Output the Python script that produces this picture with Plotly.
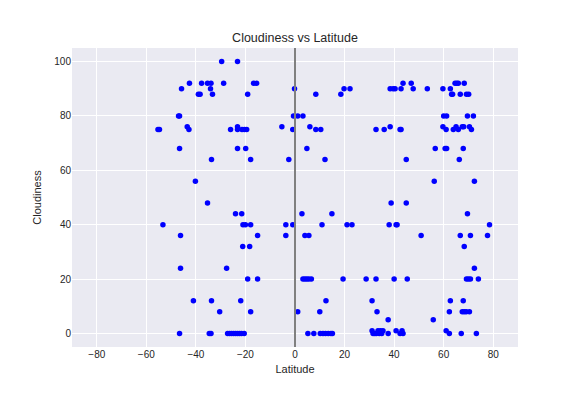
import plotly.graph_objects as go

# Southern hemisphere + equator points
lat_s = [-55.3, -54.7, -53.3, -47.0, -46.6, -46.6, -46.2, -46.2, -46.6,
         -45.8, -42.6, -37.7, -35.3, -33.9, -34.1, -28.8, -16.7, -15.5, -0.2,
         -29.6, -23.2, -39.0, -38.3, -33.3, -19.1, -0.6, 1.1, 3.2,
         -43.5, -42.8, -26.0, -23.2, -23.2, -21.4, -20.4, -19.5, -5.3, -0.9,
         -23.2, -19.9, -33.7, -17.9, -2.5, -40.2, -35.3, -24.0, -21.5,
         -21.0, -20.0, -17.9, -3.7, -0.9, -15.1, -3.7, -21.1, -18.3, -27.6,
         -19.1, -15.1, -41.0, -33.7, -21.9, -30.4, -17.9, 1.1,
         -34.6, -33.9, -27.2, -26.4, -25.6, -24.8, -24.0, -23.2, -22.4, -21.6, -20.5]
cloud_s = [75, 75, 40, 80, 80, 68, 36, 24, 0,
           90, 92, 92, 92, 92, 90, 92, 92, 92, 90,
           100, 100, 88, 88, 88, 88, 80, 80, 80,
           76, 75, 75, 76, 75, 75, 75, 75, 76, 75,
           68, 68, 64, 64, 64, 56, 48, 44, 44,
           40, 40, 40, 40, 40, 36, 36, 32, 32, 24,
           20, 20, 12, 12, 12, 8, 8, 8,
           0, 0, 0, 0, 0, 0, 0, 0, 0, 0, 0]

# Northern hemisphere points
lat_n = [8.4, 18.5, 19.8, 22.2, 38.4, 39.6, 40.4, 42.8, 43.6,
         6.0, 8.4, 10.4, 4.8, 12.1,
         32.7, 36.0, 38.4, 42.4, 42.8, 44.9,
         46.9, 47.7, 53.4, 59.7, 62.7,
         64.6, 65.3, 65.9, 68.3,
         63.2, 63.6, 66.7, 69.2, 70.1,
         60.0, 61.2, 69.6, 72.0,
         59.7, 61.0, 63.9, 65.0, 65.9, 67.5, 68.1, 70.4, 71.2,
         56.6, 60.6, 61.2, 67.9, 66.3, 56.2, 72.4,
         2.8, 14.9, 38.8, 44.9,
         10.9, 21.0, 23.0, 38.0, 40.8, 41.2,
         4.0, 5.6,
         3.2, 4.0, 4.8, 5.6, 6.6, 19.4, 28.7, 32.7, 40.0, 45.3,
         12.5, 31.1, 10.0, 33.1, 37.6,
         5.2, 7.6, 10.2, 11.3, 12.3, 13.4, 14.5, 15.1,
         31.1, 31.5, 32.2, 32.8, 33.5, 34.0, 34.5, 35.0, 35.5, 37.6, 40.8, 42.4, 43.2, 43.6,
         69.6, 78.5, 50.9, 66.7, 70.8, 77.7, 68.3, 72.4, 69.2, 70.0, 70.8, 74.0,
         62.7, 67.9, 62.3, 67.5, 68.3, 69.1, 70.4, 55.8, 61.0, 62.3, 67.1, 73.2]
cloud_n = [88, 88, 90, 90, 90, 90, 90, 90, 92,
           76, 75, 75, 68, 64,
           75, 75, 76, 75, 75, 64,
           92, 90, 90, 90, 90,
           92, 92, 92, 92,
           88, 88, 88, 88, 88,
           80, 80, 80, 80,
           76, 75, 75, 76, 75, 76, 76, 76, 75,
           68, 68, 68, 68, 64, 56, 56,
           44, 44, 48, 48,
           40, 40, 40, 40, 40, 40,
           36, 36,
           20, 20, 20, 20, 20, 20, 20, 20, 20, 20,
           12, 12, 8, 8, 5,
           0, 0, 0, 0, 0, 0, 0, 0,
           1, 0, 0, 0, 1, 0, 1, 0, 1, 0, 1, 0, 1, 0,
           44, 40, 36, 36, 36, 36, 32, 24, 20, 20, 20, 20,
           12, 12, 8, 8, 8, 8, 8, 5, 1, 0, 0, 0]

latitudes = lat_s + lat_n
cloudiness = cloud_s + cloud_n

x_ticks = [-80, -60, -40, -20, 0, 20, 40, 60, 80]
y_ticks = [0, 20, 40, 60, 80, 100]

font_family = "Liberation Sans, Arial, DejaVu Sans, sans-serif"

fig = go.Figure()
fig.add_trace(go.Scatter(
    x=latitudes, y=cloudiness, mode="markers",
    marker=dict(color="#0000FF", size=5.5, line=dict(width=0)),
    showlegend=False,
))

fig.add_shape(type="line", xref="x", yref="paper", x0=0, x1=0, y0=0, y1=1,
              line=dict(color="#808080", width=2))

fig.update_layout(
    width=576, height=396,
    margin=dict(l=64, r=66, t=40, b=57),
    paper_bgcolor="white",
    plot_bgcolor="#EAEAF2",
    font=dict(family=font_family, color="#262626", size=10),
    title=dict(text="Cloudiness vs Latitude", x=(64 + 446 / 2) / 576, xanchor="center",
               y=1 - 30 / 396, yanchor="middle",
               font=dict(size=12.5, color="#262626", family=font_family)),
    xaxis=dict(range=[-90, 90], tickvals=x_ticks, showgrid=True, automargin=False,
               gridcolor="white", gridwidth=1, zeroline=False, showline=False,
               ticks="", title=dict(text="Latitude", font=dict(size=11), standoff=6),
               tickfont=dict(size=10)),
    yaxis=dict(range=[-5, 105], tickvals=y_ticks, showgrid=True, automargin=False,
               gridcolor="white", gridwidth=1, zeroline=False, showline=False,
               ticks="", title=dict(text="Cloudiness", font=dict(size=11), standoff=10),
               tickfont=dict(size=10)),
)

fig.write_html("out.html")
